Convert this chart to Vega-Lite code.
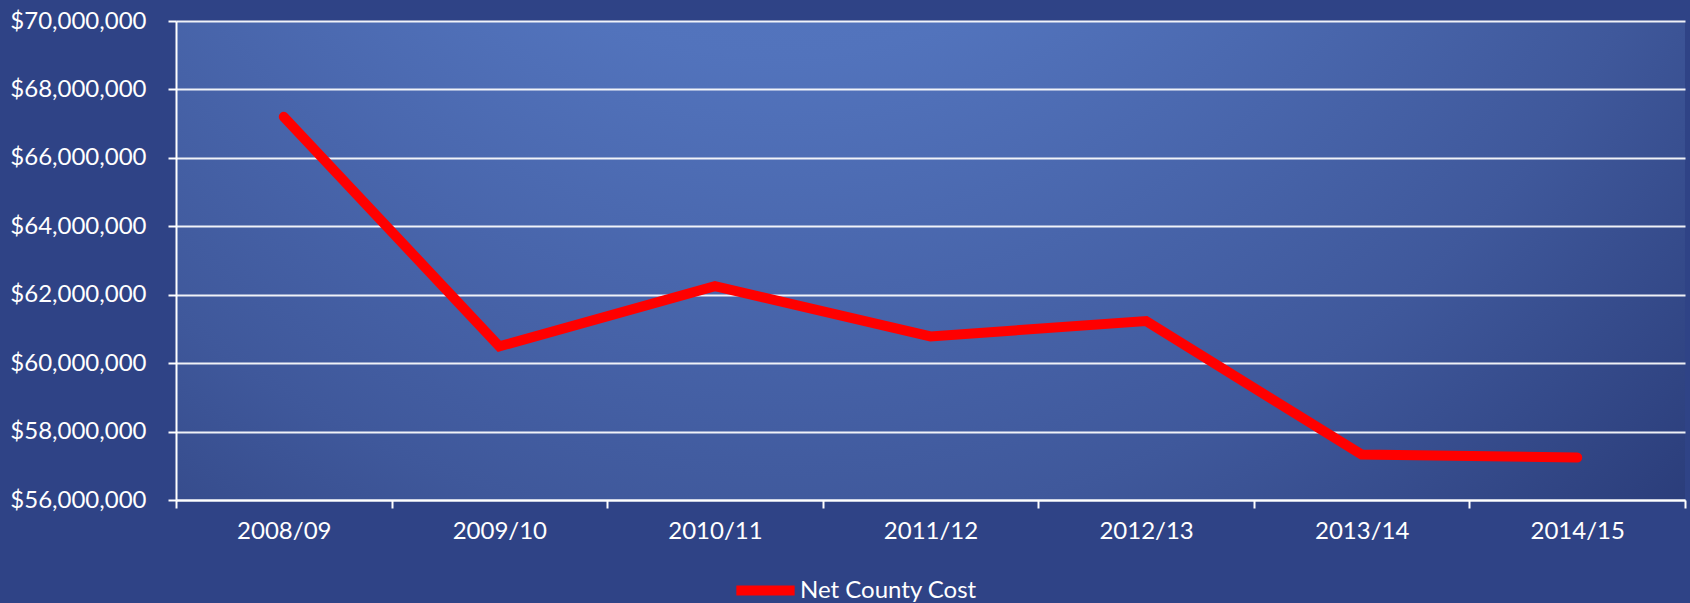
{
  "$schema": "https://vega.github.io/schema/vega-lite/v6.json",
  "width": 1509,
  "height": 479,
  "autosize": {"type": "none"},
  "padding": {"left": 176, "top": 21, "right": 5, "bottom": 103},
  "background": "#2f4386",
  "config": {
    "font": "Lato",
    "view": {
      "stroke": null,
      "fill": {
        "gradient": "radial",
        "x1": 0.4, "y1": 0.05, "r1": 0,
        "x2": 0.4, "y2": 0.05, "r2": 0.9,
        "stops": [
          {"offset": 0, "color": "#5b7dc7"},
          {"offset": 0.35, "color": "#5273bc"},
          {"offset": 0.7, "color": "#3f589b"},
          {"offset": 1, "color": "#273874"}
        ]
      }
    }
  },
  "data": {
    "values": [
      {"year": "2008/09", "cost": 67200000, "series": "Net County Cost"},
      {"year": "2009/10", "cost": 60490000, "series": "Net County Cost"},
      {"year": "2010/11", "cost": 62250000, "series": "Net County Cost"},
      {"year": "2011/12", "cost": 60780000, "series": "Net County Cost"},
      {"year": "2012/13", "cost": 61230000, "series": "Net County Cost"},
      {"year": "2013/14", "cost": 57330000, "series": "Net County Cost"},
      {"year": "2014/15", "cost": 57240000, "series": "Net County Cost"}
    ]
  },
  "mark": {"type": "line", "strokeWidth": 10, "strokeCap": "round", "strokeJoin": "miter"},
  "encoding": {
    "x": {
      "field": "year", "type": "ordinal", "sort": null, "bandPosition": 0.5,
      "scale": {"type": "band", "paddingInner": 0, "paddingOuter": 0},
      "axis": {
        "title": null, "labelAngle": 0, "tickBand": "extent", "grid": false,
        "domainColor": "white", "domainWidth": 2,
        "tickColor": "white", "tickWidth": 2, "tickSize": 8,
        "labelColor": "white", "labelFontSize": 24, "labelPadding": 11
      }
    },
    "y": {
      "field": "cost", "type": "quantitative",
      "scale": {"domain": [56000000, 70000000], "zero": false, "nice": false},
      "axis": {
        "title": null,
        "values": [56000000, 58000000, 60000000, 62000000, 64000000, 66000000, 68000000, 70000000],
        "format": "$,.0f",
        "grid": true, "gridColor": "#ffffff", "gridWidth": 2, "gridOpacity": 0.92,
        "domainColor": "white", "domainWidth": 2,
        "tickColor": "white", "tickWidth": 2, "tickSize": 8,
        "labelColor": "white", "labelFontSize": 24, "labelPadding": 22
      }
    },
    "color": {
      "field": "series", "type": "nominal",
      "scale": {"range": ["#ff0000"]},
      "legend": {
        "title": null, "orient": "none", "legendX": 555, "legendY": 535,
        "symbolType": "stroke", "symbolStrokeWidth": 10, "symbolSize": 3400,
        "labelColor": "white", "labelFontSize": 24, "labelOffset": 0, "labelLimit": 500
      }
    }
  }
}
